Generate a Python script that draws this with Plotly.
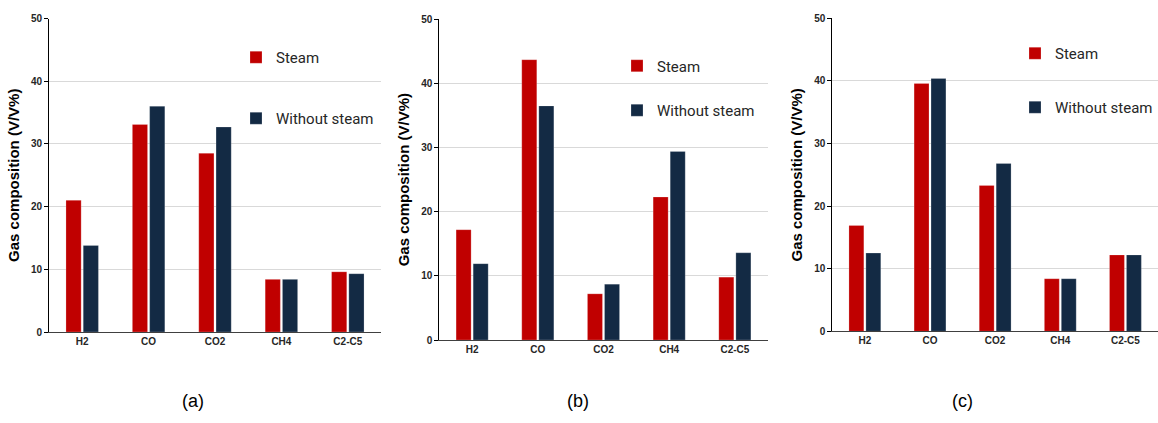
import plotly.graph_objects as go

W, H = 1158, 423

categories = ["H2", "CO", "CO2", "CH4", "C2-C5"]

steam_a = [21.0, 33.1, 28.5, 8.4, 9.6]
without_a = [13.8, 36.0, 32.7, 8.4, 9.3]

steam_b = [17.2, 43.7, 7.2, 22.3, 9.8]
without_b = [11.9, 36.5, 8.7, 29.4, 13.6]

steam_c = [16.9, 39.6, 23.3, 8.4, 12.2]
without_c = [12.5, 40.4, 26.8, 8.4, 12.2]

panel_labels = ["(a)", "(b)", "(c)"]
series_names = ["Steam", "Without steam"]
y_title = "Gas composition (V/V%)"
y_ticks = [0, 10, 20, 30, 40, 50]

RED = "#C00000"
NAVY = "#132A44"

# pixel layouts of each panel: (x0, x1, ytop, ybottom)
panels = [
    (49, 381, 18.5, 332),
    (439.3, 767.7, 19.3, 340),
    (832.3, 1158, 18.3, 331.3),
]
legend_pos = [(236, 41), (617, 49.5), (1015, 37)]
legend_gap = [38.5, 22, 31.5]
label_pos = [(179.5, 413), (577.5, 413), (975, 413)]

data = [(steam_a, without_a), (steam_b, without_b), (steam_c, without_c)]

fig = go.Figure()
for i, ((s, w), (x0, x1, yt, yb)) in enumerate(zip(data, panels)):
    sfx = "" if i == 0 else str(i + 1)
    leg = "legend" + sfx
    for j, (vals, col) in enumerate(zip((s, w), (RED, NAVY))):
        fig.add_trace(go.Bar(
            x=categories, y=vals, name=series_names[j],
            marker=dict(color=col, line=dict(color="rgba(255,255,255,0.35)", width=0.6)),
            xaxis="x" + sfx, yaxis="y" + sfx,
            legend=leg, legendgroup=f"{leg}_{j}", showlegend=True,
        ))
    fig.layout["xaxis" + sfx] = dict(
        domain=[x0 / W, x1 / W], anchor="y" + sfx,
        showline=True, linecolor="#404040", linewidth=1.2,
        ticks="", showgrid=False, automargin=False,
        tickfont=dict(family="Liberation Sans", size=10, color="#262626", weight="bold"),
        fixedrange=True,
    )
    fig.layout["yaxis" + sfx] = dict(
        domain=[1 - yb / H, 1 - yt / H], anchor="x" + sfx,
        range=[0, 50], tickvals=y_ticks, automargin=False,
        showline=True, linecolor="#000000", linewidth=1,
        ticks="outside", ticklen=4, tickcolor="#000000",
        showgrid=True, gridcolor="#D9D9D9", gridwidth=1,
        zeroline=False,
        tickfont=dict(family="Liberation Sans", size=10, color="#262626", weight="bold"),
        title=dict(text=y_title, standoff=7,
                   font=dict(family="Liberation Sans", size=15, color="#000000", weight="bold")),
        fixedrange=True,
    )
    lx, ly = legend_pos[i]
    fig.layout[leg] = dict(
        x=lx / W, y=1 - ly / H, xanchor="left", yanchor="top",
        bgcolor="rgba(0,0,0,0)", tracegroupgap=legend_gap[i], itemwidth=30,
        font=dict(family="Roboto", size=15, color="#262626"),
    )
    px, py = label_pos[i]
    fig.add_annotation(
        x=px / W, y=1 - py / H, xref="paper", yref="paper",
        text=panel_labels[i], showarrow=False,
        font=dict(family="Liberation Sans", size=18, color="#000000"),
    )

fig.update_layout(
    width=W, height=H,
    margin=dict(l=0, r=0, t=0, b=0, autoexpand=False),
    paper_bgcolor="white", plot_bgcolor="white",
    barmode="group", bargap=0.48, bargroupgap=0.12,
)

fig.write_html(
    "out.html",
    config={"displayModeBar": False},
    post_script="document.body.style.margin='0px';document.body.style.overflow='hidden';",
)
